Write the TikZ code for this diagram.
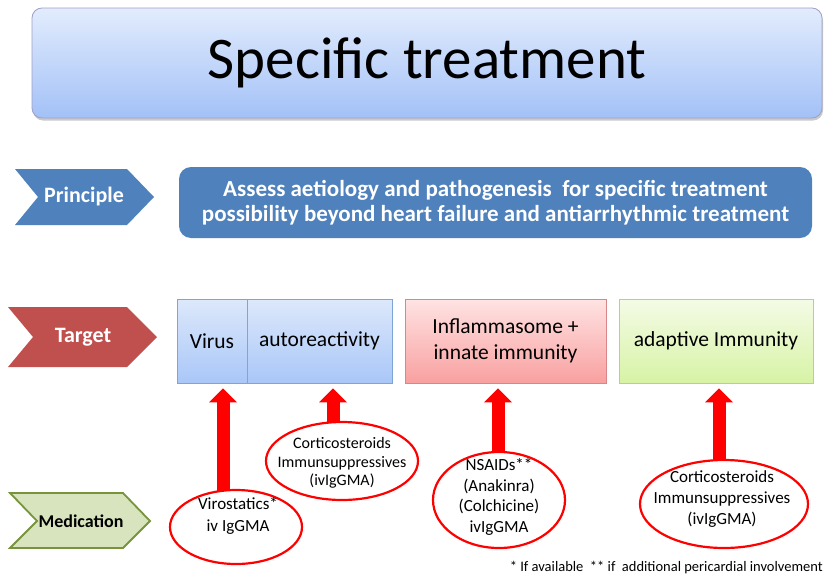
\documentclass[tikz,border=0pt]{standalone}
\usepackage{fontspec}
\setmainfont{Carlito}
\usetikzlibrary{arrows.meta,shapes.geometric,backgrounds,shadows}
\definecolor{pblue}{HTML}{4F81BD}
\definecolor{tred}{HTML}{C0504D}
\definecolor{mgreen}{HTML}{D7E4BD}
\definecolor{mgreenline}{HTML}{77933C}
\definecolor{arrred}{HTML}{FF0000}
\begin{document}
\begin{tikzpicture}[x=1pt,y=-1pt,
  titlebox/.style={rectangle, rounded corners=10pt, draw=blue!25!gray!60, line width=0.8pt,
    top color={rgb,255:red,226;green,236;blue,253}, bottom color={rgb,255:red,163;green,193;blue,247},
    minimum width=790pt, minimum height=110pt, inner sep=0pt,
    drop shadow={shadow xshift=1pt, shadow yshift=-2.5pt, opacity=0.35, fill=black!60}},
  princbox/.style={rectangle, rounded corners=12pt, fill=pblue, minimum width=633pt, minimum height=71pt,
    inner sep=0pt, align=center, text=white, font=\bfseries\fontsize{23}{25}\selectfont},
  tgtbox/.style={rectangle, line width=0.8pt, minimum height=84pt, inner sep=0pt, align=center,
    font=\fontsize{21.5}{26}\selectfont},
  bluebox/.style={tgtbox, draw={rgb,255:red,127;green,164;blue,214},
    top color={rgb,255:red,221;green,232;blue,251}, bottom color={rgb,255:red,169;green,199;blue,248}},
  pinkbox/.style={tgtbox, draw={rgb,255:red,217;green,134;blue,138},
    top color={rgb,255:red,255;green,227;blue,227}, bottom color={rgb,255:red,249;green,160;blue,160}},
  greenbox/.style={tgtbox, draw={rgb,255:red,179;green,211;blue,135},
    top color={rgb,255:red,244;green,251;blue,230}, bottom color={rgb,255:red,215;green,243;blue,165}},
  medell/.style={ellipse, draw=arrred, line width=2.2pt, fill=white, inner sep=0pt},
  medtext/.style={align=center, inner sep=0pt},
  bigarrow/.style={draw=arrred, line width=13pt, -{Triangle[width=27pt,length=14pt]}, shorten >=5pt},
  chevlabel/.style={inner sep=0pt, font=\bfseries\fontsize{22}{26}\selectfont}
]
\useasboundingbox (0,0) rectangle (829,581);

% title
\node[titlebox, font=\fontsize{59}{60}\selectfont] (title) at (427,63) {Specific treatment};

% chevrons
\fill[pblue] (15,169) -- (127,169) -- (154,197) -- (127,225) -- (15,225) -- (38,197) -- cycle;
\node[chevlabel, text=white] (principle) at (84,197) {Principle};
\fill[tred] (8,307) -- (127,307) -- (157,337) -- (127,367) -- (8,367) -- (33,337) -- cycle;
\node[chevlabel, text=white] (target) at (83,337) {Target};
\filldraw[fill=mgreen, draw=mgreenline, line width=1.8pt, line join=miter]
  (10,493) -- (123,493) -- (150,521) -- (123,548) -- (10,548) -- (37,521) -- cycle;
\node[inner sep=0pt, font=\bfseries\fontsize{18}{22}\selectfont] (medication) at (81,521) {Medication};

% principle box
\node[princbox] (pbox) at (495.5,202.5) {Assess aetiology and pathogenesis\ \ for specific treatment\\possibility beyond heart failure and antiarrhythmic treatment};

% target boxes
\node[bluebox, minimum width=70pt] (virus) at (212,341) {Virus};
\node[bluebox, minimum width=145pt] (auto) at (319.5,341) {autoreactivity};
\node[pinkbox, minimum width=201pt] (inflam) at (505.5,341) {Inflammasome +\\innate immunity};
\node[greenbox, minimum width=194pt] (adapt) at (716,341) {adaptive Immunity};

% medication ellipses
\node[medell, minimum width=132pt, minimum height=74pt] (e1) at (236,527) {};
\node[medtext, font=\fontsize{17}{22}\selectfont] (e1t) at (238,516) {Virostatics*\\iv IgGMA};
\node[medell, minimum width=152pt, minimum height=78pt] (e2) at (342,461) {};
\node[medtext, font=\fontsize{16}{18.5}\selectfont] (e2t) at (342,463) {Corticosteroids\\Immunsuppressives\\(ivIgGMA)};
\node[medell, minimum width=132pt, minimum height=96pt] (e3) at (499,500) {};
\node[medtext, font=\fontsize{17}{20.5}\selectfont] (e3t) at (499,497) {NSAIDs**\\(Anakinra)\\(Colchicine)\\ivIgGMA};
\node[medell, minimum width=168pt, minimum height=88pt] (e4) at (724,504) {};
\node[medtext, font=\fontsize{17}{21}\selectfont] (e4t) at (722,499) {Corticosteroids\\Immunsuppressives\\(ivIgGMA)};

% arrows
\coordinate (t1) at ([xshift=11pt]virus.south);
\coordinate (t2) at ([xshift=13.5pt]auto.south);
\coordinate (t3) at ([xshift=-7.5pt]inflam.south);
\coordinate (t4) at ([xshift=3pt]adapt.south);
\begin{pgfonlayer}{background}
\draw[bigarrow] (e1.center -| t1) -- (t1);
\draw[bigarrow] (e2.center -| t2) -- (t2);
\draw[bigarrow] (e3.center -| t3) -- (t3);
\draw[bigarrow] (e4.center -| t4) -- (t4);
\end{pgfonlayer}

% footnote
\node[anchor=east, inner sep=0pt, font=\fontsize{14.5}{16}\selectfont] (foot) at (823,568) {* If available\ \ ** if\ \ additional pericardial involvement};
\end{tikzpicture}
\end{document}
